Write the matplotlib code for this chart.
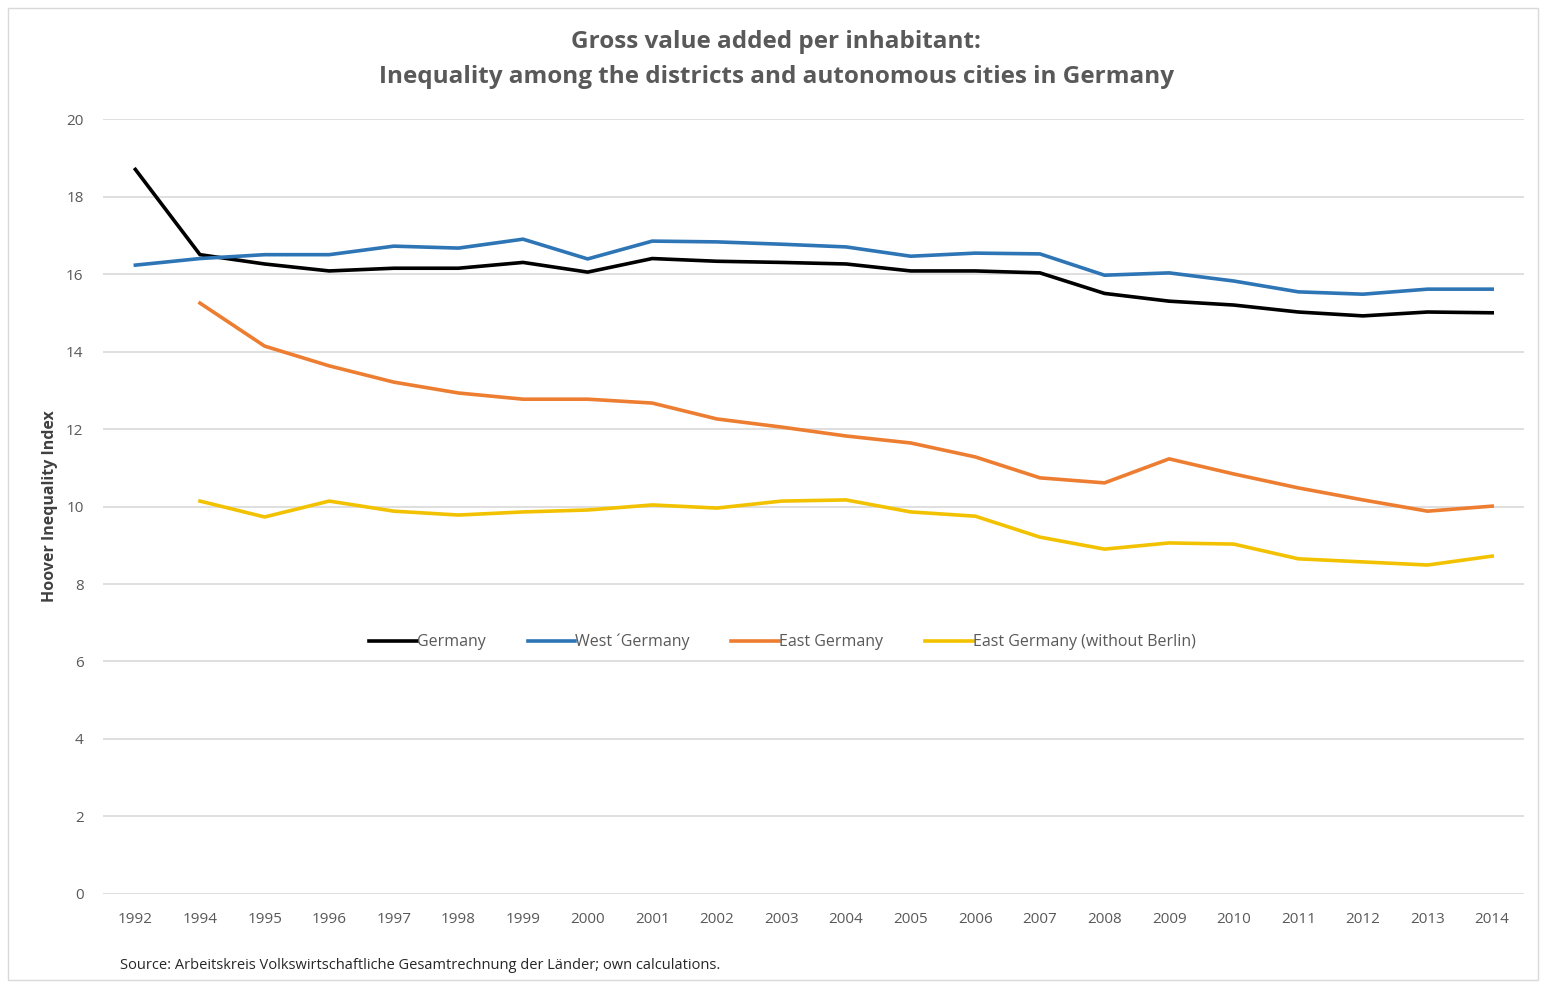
import matplotlib
matplotlib.use("Agg")
import matplotlib.pyplot as plt
from matplotlib.patches import Rectangle
import numpy as np

# Years on the category axis (1993 is not reported)
years = ["1992", "1994", "1995", "1996", "1997", "1998", "1999", "2000", "2001", "2002", "2003",
         "2004", "2005", "2006", "2007", "2008", "2009", "2010", "2011", "2012", "2013", "2014"]

# Hoover inequality index per region
germany = [18.7, 16.5, 16.26, 16.08, 16.15, 16.15, 16.3, 16.05, 16.4, 16.33, 16.3,
           16.26, 16.08, 16.08, 16.03, 15.5, 15.3, 15.2, 15.02, 14.92, 15.02, 15.0]
west = [16.23, 16.4, 16.5, 16.5, 16.72, 16.67, 16.9, 16.39, 16.85, 16.83, 16.77,
        16.7, 16.46, 16.54, 16.52, 15.97, 16.03, 15.82, 15.54, 15.48, 15.61, 15.61]
east = [np.nan, 15.25, 14.14, 13.63, 13.21, 12.93, 12.77, 12.77, 12.67, 12.26, 12.05,
        11.82, 11.64, 11.28, 10.74, 10.61, 11.23, 10.84, 10.48, 10.17, 9.88, 10.01]
east_no_berlin = [np.nan, 10.14, 9.73, 10.14, 9.88, 9.78, 9.86, 9.91, 10.04, 9.96, 10.14,
                  10.17, 9.86, 9.75, 9.21, 8.9, 9.06, 9.03, 8.65, 8.57, 8.49, 8.72]

series_names = ["Germany", "West \u00b4Germany", "East Germany", "East Germany (without Berlin)"]
series_colors = ["#000000", "#2E75B6", "#ED7D31", "#F2C200"]

plt.rcParams['font.family'] = ['Open Sans', 'DejaVu Sans']

fig = plt.figure(figsize=(15.43, 9.84), dpi=100)
ax = fig.add_axes([0.0668, 0.0915, 0.9212, 0.7875])

x = np.arange(len(years))
for vals, name, col in zip([germany, west, east, east_no_berlin], series_names, series_colors):
    ax.plot(x, vals, color=col, linewidth=2.6, label=name, solid_joinstyle='round')

ax.set_xlim(-0.5, len(years) - 0.5)
ax.set_ylim(0, 20)
ax.set_yticks(range(0, 21, 2))
ax.set_xticks(x)
ax.set_xticklabels(years)
ax.tick_params(axis='both', length=0, colors='#595959', labelsize=11)
ax.tick_params(axis='y', pad=14)
ax.tick_params(axis='x', pad=13)
ax.grid(axis='y', color='#D9D9D9', linewidth=1.2)
ax.set_axisbelow(True)
for s in ax.spines.values():
    s.set_visible(False)

ax.set_ylabel('Hoover Inequality Index', fontsize=11.5, fontweight='bold', color='#404040', labelpad=6)

# Legend sits inside the plot area, just above the 6 gridline
leg = ax.legend(loc='center', bbox_to_anchor=(0.478, 0.325), ncol=4, frameon=False,
                fontsize=11.5, handlelength=3.0, handletextpad=0.0, columnspacing=2.6,
                labelcolor='#595959')

fig.text(0.503, 0.957, 'Gross value added per inhabitant:', ha='center', va='center',
         fontsize=17.5, fontweight='bold', color='#595959')
fig.text(0.503, 0.922, 'Inequality among the districts and autonomous cities in Germany',
         ha='center', va='center', fontsize=17.5, fontweight='bold', color='#595959')

fig.text(0.078, 0.019, 'Source: Arbeitskreis Volkswirtschaftliche Gesamtrechnung der L\u00e4nder; own calculations.',
         ha='left', va='center', fontsize=10.5, color='#262626')

# Thin chart frame
fig.patches.append(Rectangle((0.005, 0.004), 0.992, 0.988, transform=fig.transFigure,
                             fill=False, edgecolor='#D9D9D9', linewidth=1.0))

fig.savefig('out.png', dpi=100)
